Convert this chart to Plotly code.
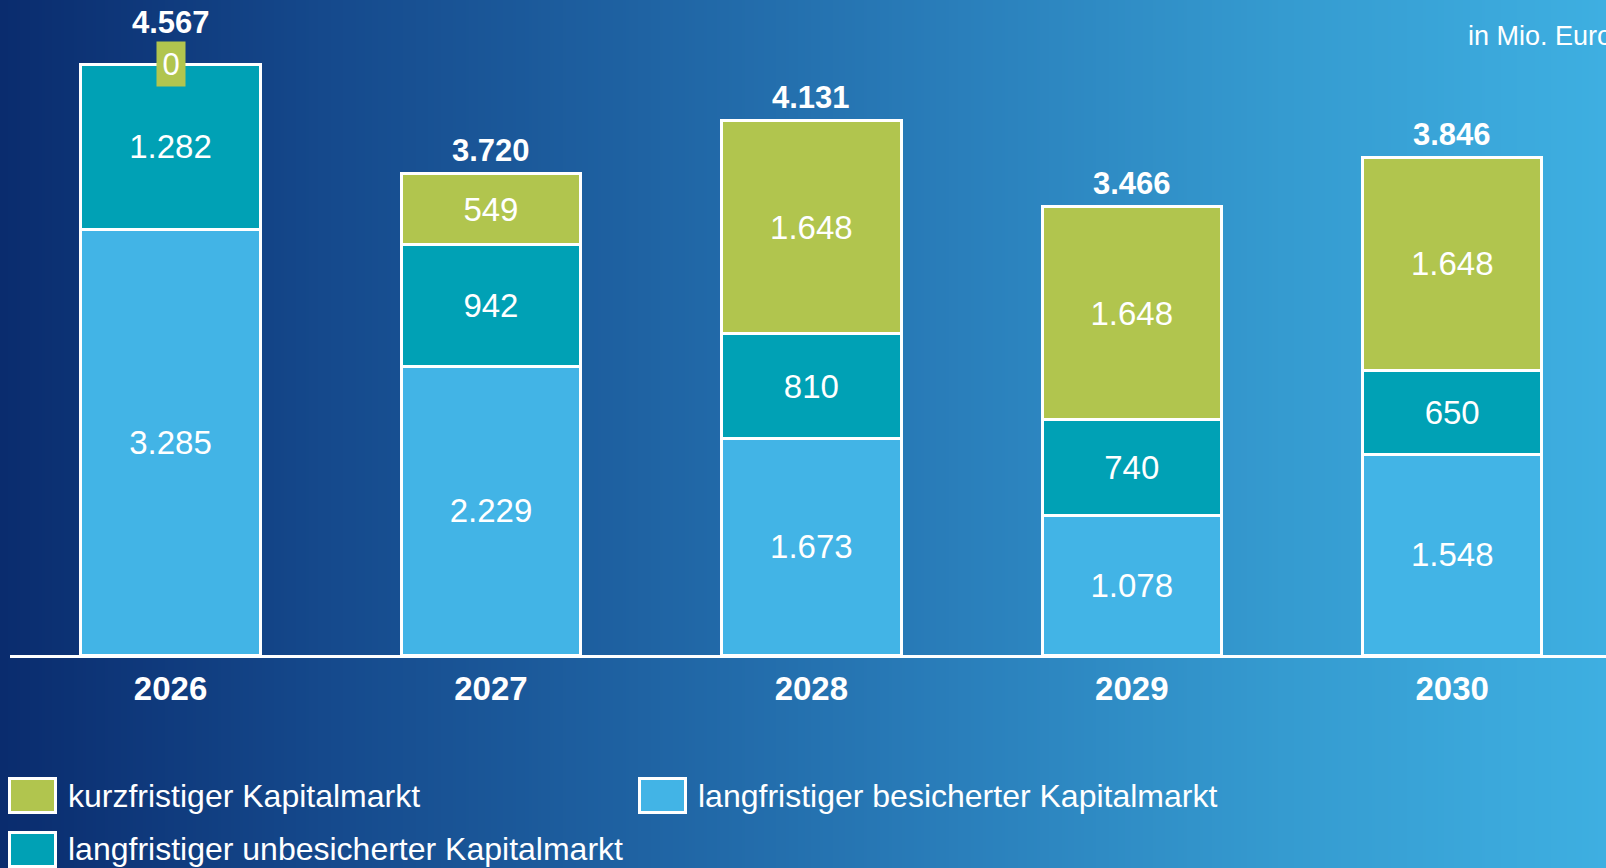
import base64
import struct
import zlib

import plotly.graph_objects as go

# ---------------- data ----------------
years = ["2026", "2027", "2028", "2029", "2030"]
kurzfristig = [0, 549, 1648, 1648, 1648]
lang_unbesichert = [1282, 942, 810, 740, 650]
lang_besichert = [3285, 2229, 1673, 1078, 1548]
totals = [4567, 3720, 4131, 3466, 3846]

name_kurz = "kurzfristiger Kapitalmarkt"
name_unbes = "langfristiger unbesicherter Kapitalmarkt"
name_bes = "langfristiger besicherter Kapitalmarkt"
unit_label = "in Mio. Euro"

# ---------------- style ----------------
C_GREEN = "#B1C54E"
C_TEAL = "#00A1B5"
C_LIGHT = "#42B4E6"
FONT = "Liberation Sans, Arial, sans-serif"

W, H = 1606, 868
ML, MR, MT, MB = 10, 0, 8, 213
PW, PH = W - ML - MR, H - MT - MB


def px2x(px):
    return (px - ML) / PW


def py2y(py):
    return (H - MB - py) / PH


def fmt(v):
    return f"{v:,}".replace(",", ".")


def gradient_png(stops, w=512):
    row = bytearray([0])
    for i in range(w):
        t = i / (w - 1)
        for k in range(len(stops) - 1):
            t0, c0 = stops[k]
            t1, c1 = stops[k + 1]
            if t0 <= t <= t1:
                f = (t - t0) / (t1 - t0) if t1 > t0 else 0
                rgb = [round(c0[j] + (c1[j] - c0[j]) * f) for j in range(3)]
                break
        row += bytes(rgb)

    def chunk(tag, data):
        return (struct.pack(">I", len(data)) + tag + data
                + struct.pack(">I", zlib.crc32(tag + data) & 0xFFFFFFFF))

    ihdr = struct.pack(">IIBBBBB", w, 1, 8, 2, 0, 0, 0)
    png = (b"\x89PNG\r\n\x1a\n" + chunk(b"IHDR", ihdr)
           + chunk(b"IDAT", zlib.compress(bytes(row))) + chunk(b"IEND", b""))
    return "data:image/png;base64," + base64.b64encode(png).decode()


bg_src = gradient_png([
    (0.0, (10, 44, 110)),
    (0.2, (21, 73, 140)),
    (0.4, (31, 99, 163)),
    (0.6, (42, 127, 187)),
    (0.8, (53, 155, 208)),
    (1.0, (62, 175, 225)),
])

fig = go.Figure()

series = [
    (name_bes, lang_besichert, C_LIGHT),
    (name_unbes, lang_unbesichert, C_TEAL),
    (name_kurz, kurzfristig, C_GREEN),
]
for name, vals, col in series:
    fig.add_trace(go.Bar(
        x=years, y=vals, name=name,
        width=0.56,
        marker=dict(color=col, line=dict(color="white", width=3)),
        text=[fmt(v) if v > 0 else "" for v in vals],
        textposition="inside",
        insidetextanchor="middle",
        textangle=0,
        constraintext="none",
        textfont=dict(family=FONT, size=33, color="white"),
        hoverinfo="skip",
        showlegend=False,
    ))

annotations = []
# zero-value labels of the top segment and totals (x = category index)
for i, (k, tot) in enumerate(zip(kurzfristig, totals)):
    if k == 0:
        annotations.append(dict(
            x=i, y=tot, xref="x", yref="y", text=fmt(k),
            showarrow=False, yanchor="middle", xanchor="center",
            bgcolor=C_GREEN, width=28, height=44, borderpad=0,
            font=dict(family=FONT, size=31, color="white"),
        ))
    annotations.append(dict(
        x=i, y=tot, xref="x", yref="y", text=fmt(tot),
        showarrow=False, yanchor="middle", xanchor="center",
        yshift=42 if k == 0 else 23,
        font=dict(family=FONT, size=31, color="white", weight=700),
    ))

# unit label
annotations.append(dict(
    x=px2x(1466), y=py2y(36), xref="paper", yref="paper", text=unit_label,
    showarrow=False, xanchor="left", yanchor="middle",
    font=dict(family=FONT, size=27, color="white"),
))

# custom legend
shapes = []
legend_items = [
    (name_kurz, C_GREEN, 8, 777, 66, 796),
    (name_bes, C_LIGHT, 638, 777, 696, 796),
    (name_unbes, C_TEAL, 8, 831, 66, 849),
]
for name, col, bx, by, tx, ty in legend_items:
    shapes.append(dict(
        type="rect", xref="paper", yref="paper",
        x0=px2x(bx + 1.5), x1=px2x(bx + 47.5),
        y0=py2y(by + 1.5), y1=py2y(by + 35.5),
        fillcolor=col, line=dict(color="white", width=3),
    ))
    annotations.append(dict(
        x=px2x(tx), y=py2y(ty), xref="paper", yref="paper", text=name,
        showarrow=False, xanchor="left", yanchor="middle",
        font=dict(family=FONT, size=32, color="white"),
    ))

fig.update_layout(
    width=W, height=H,
    margin=dict(l=ML, r=MR, t=MT, b=MB, pad=0),
    barmode="stack",
    paper_bgcolor="#1F63A3",
    plot_bgcolor="rgba(0,0,0,0)",
    separators=",.",
    showlegend=False,
    images=[dict(
        source=bg_src, xref="paper", yref="paper",
        x=px2x(0), y=py2y(0), sizex=W / PW, sizey=H / PH,
        xanchor="left", yanchor="top", sizing="stretch", layer="below",
    )],
    annotations=annotations,
    shapes=shapes,
    xaxis=dict(
        type="category", range=[-0.501, 4.48],
        showline=True, linecolor="white", linewidth=3,
        showgrid=False, zeroline=False, ticks="",
        tickfont=dict(family=FONT, size=33, color="white", weight=700),
        ticklabelstandoff=2,
        fixedrange=True,
    ),
    yaxis=dict(
        range=[0, 5000], visible=False, showgrid=False, zeroline=False,
        fixedrange=True,
    ),
)

fig.write_html(
    "out.html",
    config={"displayModeBar": False, "staticPlot": True},
    post_script="document.body.style.margin='0';document.body.style.overflow='hidden';",
)
